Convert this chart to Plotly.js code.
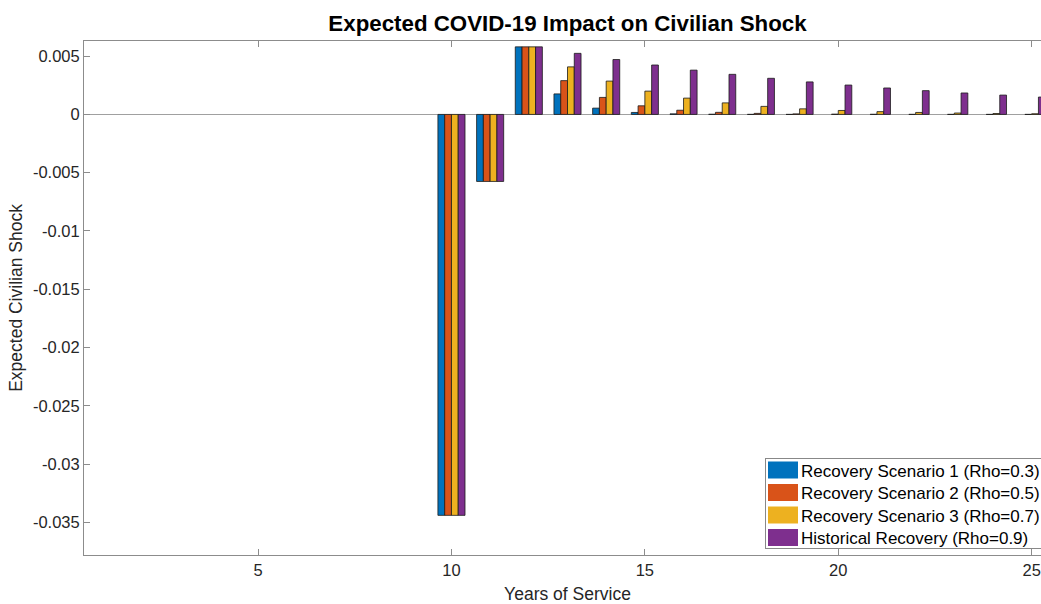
<!DOCTYPE html>
<html>
<head>
<meta charset="utf-8">
<script src="https://cdn.plot.ly/plotly-3.0.1.min.js"></script>
<style>
html,body{margin:0;padding:0;overflow:hidden;background:#fff;width:1041px;height:604px;}
#chart{width:1060px;height:604px;}
</style>
</head>
<body>
<div id="chart"></div>
<script>
const years = [1,2,3,4,5,6,7,8,9,10,11,12,13,14,15,16,17,18,19,20,21,22,23,24,25];
const seriesNames = [
  "Recovery Scenario 1 (Rho=0.3)",
  "Recovery Scenario 2 (Rho=0.5)",
  "Recovery Scenario 3 (Rho=0.7)",
  "Historical Recovery (Rho=0.9)"
];
const scenario1 = [0,0,0,0,0,0,0,0,0,-0.0344,-0.00575,0.0058,0.00176,0.00054,0.00017,0.00005,0.000015,0.000004,0.000001,0,0,0,0,0,0];
const scenario2 = [0,0,0,0,0,0,0,0,0,-0.0344,-0.00575,0.0058,0.0029,0.00146,0.00074,0.00036,0.00018,0.00009,0.000045,0.000022,0.000011,0.000006,0.000003,0.0000015,0.0000007];
const scenario3 = [0,0,0,0,0,0,0,0,0,-0.0344,-0.00575,0.0058,0.00408,0.00286,0.002,0.0014,0.00099,0.00069,0.00048,0.00034,0.00024,0.00017,0.00012,0.00008,0.000057];
const historical = [0,0,0,0,0,0,0,0,0,-0.0344,-0.00575,0.0058,0.00524,0.00471,0.00424,0.0038,0.00344,0.0031,0.00279,0.00252,0.00227,0.00204,0.00184,0.00166,0.00149];
const yTickVals = [0.005,0,-0.005,-0.01,-0.015,-0.02,-0.025,-0.03,-0.035];
const yTickText = ["0.005","0","-0.005","-0.01","-0.015","-0.02","-0.025","-0.03","-0.035"];
const xTickVals = [5,10,15,20,25];

const colors = ["#0072BD","#D95319","#EDB120","#7E2F8E"];
const allSeries = [scenario1, scenario2, scenario3, historical];

const traces = allSeries.map((vals, i) => ({
  type: "bar",
  x: years,
  y: vals,
  name: seriesNames[i],
  marker: {color: colors[i], line: {color: "#1a1a1a", width: vals.map(v => v === 0 ? 0 : 0.8)}}
}));

const font = "Arial, 'Liberation Sans', Helvetica, sans-serif";
const axisColor = "#8c8c8c";

const layout = {
  width: 1060,
  height: 604,
  margin: {l: 84, r: 9, t: 41, b: 49},
  paper_bgcolor: "#fff",
  plot_bgcolor: "#fff",
  barmode: "group",
  bargap: 0.3,
  bargroupgap: 0,
  font: {family: font, size: 16, color: "#262626"},
  title: {
    text: "<b>Expected COVID-19 Impact on Civilian Shock</b>",
    font: {family: font, size: 22.3, color: "#000"},
    x: 0.5, xref: "paper", xanchor: "center",
    y: 1 - 23/604, yref: "container", yanchor: "middle"
  },
  xaxis: {
    range: [0.5, 25.5],
    tickvals: xTickVals,
    ticktext: xTickVals.map(String),
    ticks: "inside",
    ticklen: 6,
    tickcolor: axisColor,
    showline: true,
    linecolor: axisColor,
    linewidth: 1,
    mirror: "ticks",
    showgrid: false,
    zeroline: false,
    tickfont: {family: font, size: 16.5, color: "#262626"},
    title: {text: "Years of Service", font: {family: font, size: 17.5, color: "#262626"}, standoff: 11}
  },
  yaxis: {
    range: [-0.0378, 0.0063],
    tickvals: yTickVals,
    ticktext: yTickText,
    ticks: "inside",
    ticklen: 6,
    tickcolor: axisColor,
    showline: true,
    linecolor: axisColor,
    linewidth: 1,
    mirror: "ticks",
    showgrid: false,
    zeroline: true,
    zerolinecolor: "#a0a0a0",
    zerolinewidth: 1,
    tickfont: {family: font, size: 16.5, color: "#262626"},
    title: {text: "Expected Civilian Shock", font: {family: font, size: 17.5, color: "#262626"}, standoff: 5}
  },
  legend: {
    x: 1, xanchor: "right",
    y: 0.012, yanchor: "bottom",
    bgcolor: "#fff",
    bordercolor: "#888",
    borderwidth: 1,
    font: {family: font, size: 17, color: "#000"},
    traceorder: "normal",
    itemwidth: 30,
    tracegroupgap: 0
  },
  showlegend: true
};

function parseTranslate(s) {
  const m = /translate\(\s*([-\d.e]+)[ ,]+([-\d.e]+)\s*\)/.exec(s || "");
  return m ? [parseFloat(m[1]), parseFloat(m[2])] : [0, 0];
}

Plotly.newPlot("chart", traces, layout, {displayModeBar: false, staticPlot: true}).then(gd => {
  // enlarge legend swatches to MATLAB-style rectangles
  gd.querySelectorAll(".legend .legendpoints path").forEach(p => {
    p.setAttribute("d", "M-18,-8.5h30v17h-30Z");
  });
  gd.querySelectorAll(".legend .legendtext").forEach(t => {
    t.setAttribute("x", "35");
  });
  // tighten legend row spacing and box height to match the reference
  const legend = gd.querySelector(".legend");
  if (!legend) return;
  const items = Array.from(legend.querySelectorAll(".traces"));
  if (items.length < 2) return;
  const pos = items.map(it => parseTranslate(it.getAttribute("transform")));
  const newStep = 22.5;
  const boxH = 90;
  const firstCenter = 9.5;
  const bg = legend.querySelector("rect.bg");
  const oldH = bg ? parseFloat(bg.getAttribute("height")) : boxH;
  const offset0 = pos[0][1];
  items.forEach((it, i) => {
    it.setAttribute("transform", `translate(${pos[i][0]},${firstCenter + (offset0 - 16) + i * newStep})`);
  });
  if (bg) bg.setAttribute("height", boxH);
  const lp = parseTranslate(legend.getAttribute("transform"));
  legend.setAttribute("transform", `translate(${lp[0]},${lp[1] + (oldH - boxH)})`);
});
</script>
</body>
</html>
